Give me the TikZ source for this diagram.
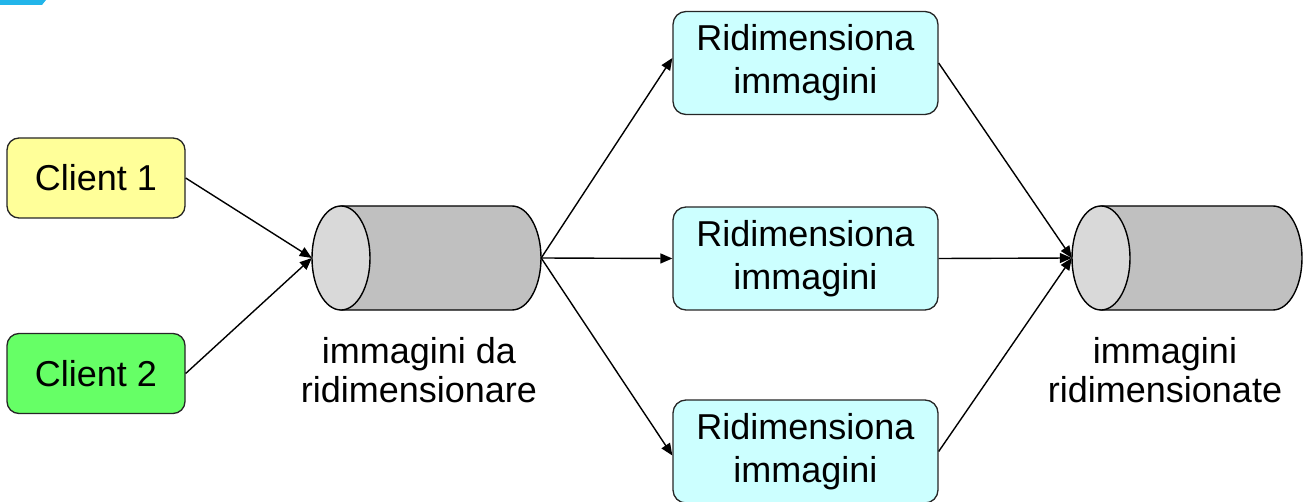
\documentclass[tikz,border=0pt]{standalone}
\usepackage{fontspec}
\setmainfont{Liberation Sans}
\usetikzlibrary{arrows.meta}
\definecolor{cyel}{HTML}{FFFF99}
\definecolor{cgrn}{HTML}{66FF66}
\definecolor{ccyan}{HTML}{CCFFFF}
\definecolor{cbody}{HTML}{C0C0C0}
\definecolor{cend}{HTML}{D9D9D9}
\definecolor{cbar}{HTML}{22B5EA}
\begin{document}
\begin{tikzpicture}[x=1pt,y=-1pt,
  box/.style={draw=black!85, line width=1.3pt, rounded corners=13pt, inner sep=0pt,
    align=center, font=\fontsize{36}{43}\selectfont},
  clientbox/.style={box, minimum width=178pt, minimum height=80pt, rounded corners=12pt},
  workbox/.style={box, fill=ccyan, minimum width=265pt, minimum height=103pt},
  lbl/.style={align=center, font=\fontsize{36}{39}\selectfont, inner sep=0pt},
  conn/.style={line width=1.4pt, -{Triangle[length=12pt,width=10pt]}},
  cylbody/.style={draw=black, line width=1.4pt, fill=cbody},
  cylend/.style={draw=black, line width=1.4pt, fill=cend}]
\useasboundingbox (0,0) rectangle (1306,502);
\fill[cbar] (0,0) -- (46,0) -- (42,5) -- (0,5) -- cycle;

% clients
\node[clientbox, fill=cyel] (c1) at (96,178) {Client 1};
\node[clientbox, fill=cgrn] (c2) at (96,373.5) {Client 2};

% cylinders
\draw[cylbody] (341,206) -- (512,206) arc[start angle=-90,end angle=90,x radius=29,y radius=52] -- (341,310) -- cycle;
\draw[cylend] (341,258) ellipse[x radius=29, y radius=52];
\node[inner sep=0pt, minimum width=229pt, minimum height=104pt] (q1) at (426.5,258) {};

\draw[cylbody] (1101,206) -- (1273,206) arc[start angle=-90,end angle=90,x radius=29,y radius=52] -- (1101,310) -- cycle;
\draw[cylend] (1101,258) ellipse[x radius=29, y radius=52];
\node[inner sep=0pt, minimum width=230pt, minimum height=104pt] (q2) at (1187,258) {};

% labels
\node[lbl, anchor=base] (l1) at (419,402) {immagini da\\ridimensionare};
\node[lbl, anchor=base] (l2) at (1165,402) {immagini\\ridimensionate};

% workers
\node[workbox] (w1) at (805.5,63) {Ridimensiona\\immagini};
\node[workbox] (w2) at (805.5,258.5) {Ridimensiona\\immagini};
\node[workbox] (w3) at (805.5,451.5) {Ridimensiona\\immagini};

% connectors
\draw[conn] (c1.east) -- (q1.west);
\draw[conn] (c2.east) -- (q1.west);
\draw[conn] (q1.east) -- ([yshift=5pt]w1.west);
\draw[conn] (q1.east) -- (w2.west);
\draw[conn] (q1.east) -- ([yshift=-4pt]w3.west);
\draw[conn] (w1.east) -- (q2.west);
\draw[conn] (w2.east) -- (q2.west);
\draw[conn] (w3.east) -- (q2.west);
\end{tikzpicture}
\end{document}
